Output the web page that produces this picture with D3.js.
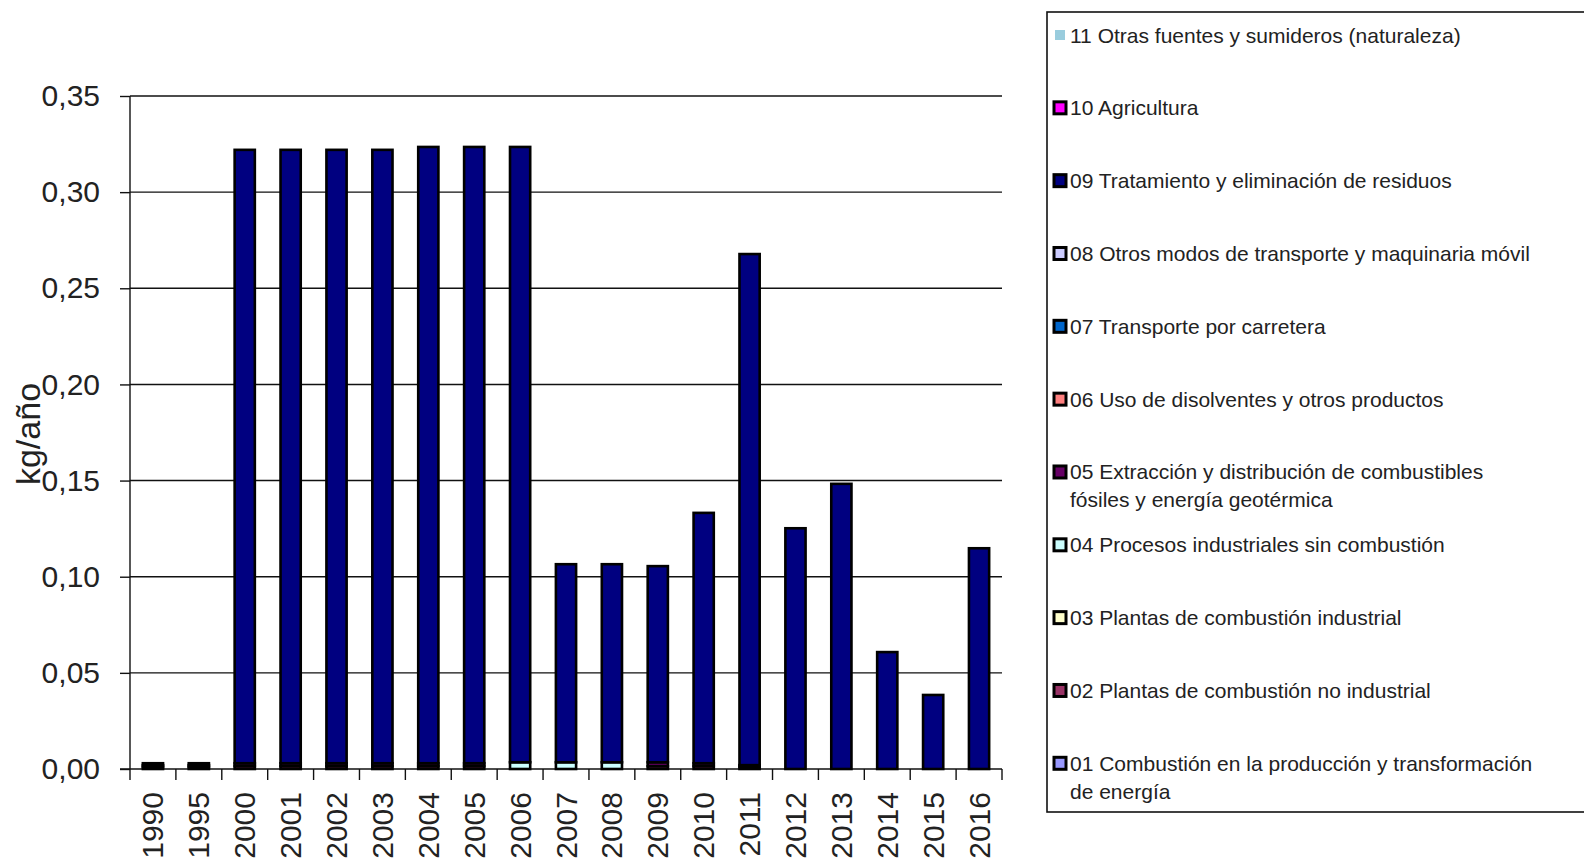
<!DOCTYPE html>
<html>
<head>
<meta charset="utf-8">
<script src="https://cdn.jsdelivr.net/npm/d3@7"></script>
<style>
  html, body { margin: 0; padding: 0; background: #fff; overflow: hidden; }
  svg { display: block; font-family: "Liberation Sans", Arial, sans-serif; }
</style>
</head>
<body>
<svg id="chart" width="1584" height="864"></svg>
<script>
// ---------- DATA ----------
const years = ["1990","1995","2000","2001","2002","2003","2004","2005","2006","2007","2008","2009","2010","2011","2012","2013","2014","2015","2016"];

const s01 = [0.001,0.001,0,0,0,0,0,0,0,0,0,0,0,0,0,0,0,0,0];
const s02 = [0.001,0.001,0.0015,0.0015,0.0015,0.0015,0.0015,0.0015,0,0,0,0.0015,0.0015,0.001,0,0,0,0,0];
const s03 = [0.001,0.001,0,0,0,0,0,0,0,0,0,0,0,0,0,0,0,0,0];
const s04 = [0,0,0,0,0,0,0,0,0.0035,0.0035,0.0035,0,0,0,0,0,0,0,0];
const s05 = [0,0,0.0015,0.0015,0.0015,0.0015,0.0015,0.0015,0,0,0,0.002,0.0015,0.001,0,0,0,0,0];
const s06 = [0,0,0,0,0,0,0,0,0,0,0,0,0,0,0,0,0,0,0];
const s07 = [0,0,0,0,0,0,0,0,0,0,0,0,0,0,0,0,0,0,0];
const s08 = [0,0,0,0,0,0,0,0,0,0,0,0,0,0,0,0,0,0,0];
const s09 = [0,0,0.319,0.319,0.319,0.319,0.3205,0.3205,0.320,0.103,0.103,0.102,0.1302,0.2658,0.1252,0.1483,0.0608,0.0385,0.1148];
const s10 = [0,0,0,0,0,0,0,0,0,0,0,0,0,0,0,0,0,0,0];
const s11 = [0,0,0,0,0,0,0,0,0,0,0,0,0,0,0,0,0,0,0];

const seriesKeys = ["01","02","03","04","05","06","07","08","09","10","11"];
const seriesValues = [s01,s02,s03,s04,s05,s06,s07,s08,s09,s10,s11];
const seriesNames = [
  ["01 Combustión en la producción y transformación", "de energía"],
  ["02 Plantas de combustión no industrial"],
  ["03 Plantas de combustión industrial"],
  ["04 Procesos industriales sin combustión"],
  ["05 Extracción y distribución de combustibles", "fósiles y energía geotérmica"],
  ["06 Uso de disolventes y otros productos"],
  ["07 Transporte por carretera"],
  ["08 Otros modos de transporte y maquinaria móvil"],
  ["09 Tratamiento y eliminación de residuos"],
  ["10 Agricultura"],
  ["11 Otras fuentes y sumideros (naturaleza)"]
];
const seriesColors = ["#9999FF","#993366","#FFFFCC","#CCFFFF","#660066","#FF8080","#0066CC","#CCCCFF","#000080","#FF00FF","#99CCDD"];

const yTicks = [0,0.05,0.10,0.15,0.20,0.25,0.30,0.35];
const yTitle = "kg/año";

// ---------- BUILD ----------
(function () {
const rows = years.map((yr, i) => {
  const r = { year: yr };
  seriesKeys.forEach((k, j) => r[k] = seriesValues[j][i]);
  return r;
});

const svg = d3.select("#chart");
const pLeft = 130, pRight = 1002, pTop = 96, pBottom = 769;

const x = d3.scaleBand().domain(years).range([pLeft, pRight]).paddingInner(0.56).paddingOuter(0.28);
const y = d3.scaleLinear().domain([0, 0.35]).range([pBottom, pTop]);

// gridlines
svg.append("g").selectAll("line").data(yTicks.filter(d => d > 0)).join("line")
  .attr("x1", pLeft).attr("x2", pRight)
  .attr("y1", d => y(d)).attr("y2", d => y(d))
  .attr("stroke", "#111").attr("stroke-width", 1.4);

// y axis
const fmt = d => d3.format(".2f")(d).replace(".", ",");
const yAxis = svg.append("g").attr("transform", `translate(${pLeft},0)`)
  .call(d3.axisLeft(y).tickValues(yTicks).tickFormat(fmt).tickSize(10).tickPadding(20));
yAxis.select(".domain").remove();
yAxis.selectAll(".tick line").attr("stroke", "#111").attr("stroke-width", 1.4);
yAxis.selectAll(".tick text").attr("font-size", 30).attr("fill", "#222")
  .attr("font-family", "'Liberation Sans', Arial, sans-serif");
svg.append("line").attr("x1", pLeft).attr("x2", pLeft).attr("y1", pTop).attr("y2", pBottom + 11)
  .attr("stroke", "#111").attr("stroke-width", 1.4);

// x axis line and category boundary ticks
svg.append("line").attr("x1", pLeft - 10).attr("x2", pRight).attr("y1", pBottom).attr("y2", pBottom)
  .attr("stroke", "#111").attr("stroke-width", 1.4);
const halfGap = x.paddingInner() * x.step() / 2;
const boundaries = years.slice(1).map(d => x(d) - halfGap).concat([pRight]);
svg.append("g").selectAll("line").data(boundaries).join("line")
  .attr("x1", d => d).attr("x2", d => d).attr("y1", pBottom).attr("y2", pBottom + 11)
  .attr("stroke", "#111").attr("stroke-width", 1.4);

// x labels
svg.append("g").selectAll("text").data(years).join("text")
  .attr("transform", d => `translate(${x(d) + x.bandwidth() / 2},792) rotate(-90)`)
  .attr("text-anchor", "end").attr("dominant-baseline", "central")
  .attr("font-size", 30).attr("fill", "#222").text(d => d);

// stacked bars
const stack = d3.stack().keys(seriesKeys)(rows);
svg.append("g").selectAll("g").data(stack).join("g")
  .attr("fill", (d, i) => seriesColors[i])
  .selectAll("rect").data(d => d.filter(p => p[1] - p[0] > 0)).join("rect")
  .attr("x", d => x(d.data.year))
  .attr("width", x.bandwidth())
  .attr("y", d => y(d[1]))
  .attr("height", d => y(d[0]) - y(d[1]))
  .attr("stroke", "#000").attr("stroke-width", 2.6);

// y title
svg.append("text").attr("transform", "translate(40,434) rotate(-90)")
  .attr("text-anchor", "middle").attr("font-size", 34).attr("fill", "#222").text(yTitle);

// legend
svg.append("rect").attr("x", 1047).attr("y", 12).attr("width", 600).attr("height", 800)
  .attr("fill", "none").attr("stroke", "#111").attr("stroke-width", 1.6);

const legendOrder = d3.range(seriesKeys.length).reverse();
const lg = svg.append("g").selectAll("g").data(legendOrder).join("g")
  .attr("transform", (d, i) => `translate(1053,${35 + i * 72.83})`);
lg.append("rect")
  .attr("x", d => d === 10 ? 2 : 1).attr("y", d => d === 10 ? -5 : -6)
  .attr("width", d => d === 10 ? 10 : 12).attr("height", d => d === 10 ? 10 : 12)
  .attr("fill", d => seriesColors[d])
  .attr("stroke", d => d === 10 ? "none" : "#000").attr("stroke-width", 3);
lg.each(function(d) {
  const g = d3.select(this);
  seriesNames[d].forEach((line, k) => {
    g.append("text").attr("x", 17).attr("y", k * 28)
      .attr("dominant-baseline", "central")
      .attr("font-size", 21).attr("fill", "#222").text(line);
  });
});
})();
</script>
</body>
</html>
